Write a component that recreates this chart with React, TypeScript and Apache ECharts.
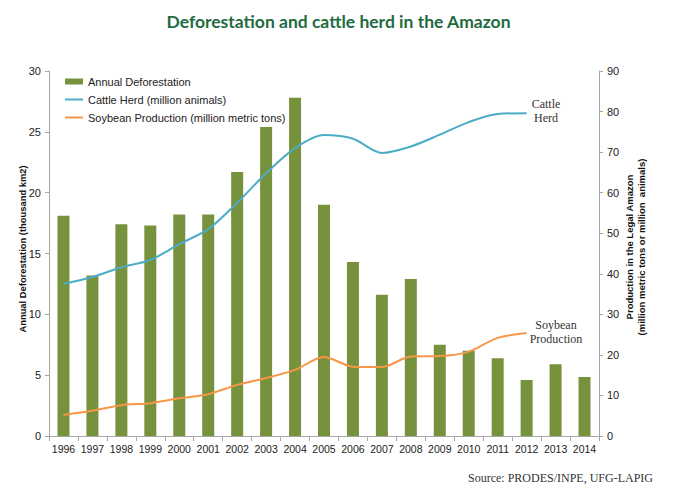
import React, { useEffect, useRef } from "react";
import * as echarts from "echarts";

const years = ["1996","1997","1998","1999","2000","2001","2002","2003","2004","2005","2006","2007","2008","2009","2010","2011","2012","2013","2014"];
const deforestation = [18.1, 13.2, 17.4, 17.3, 18.2, 18.2, 21.7, 25.4, 27.8, 19.0, 14.3, 11.6, 12.9, 7.5, 7.0, 6.4, 4.6, 5.9, 4.85];
const cattleHerd = [37.5, 39.2, 41.6, 43.4, 47.3, 51.0, 57.5, 64.8, 71.0, 74.2, 73.3, 69.8, 71.4, 74.3, 77.4, 79.4, 79.6];
const soybean = [5.2, 6.2, 7.6, 8.1, 9.3, 10.3, 12.6, 14.3, 16.3, 19.5, 17.1, 17.0, 19.6, 19.7, 20.8, 24.2, 25.4];

const FONT = "'Liberation Sans', Arial, sans-serif";
const SERIF = "'Liberation Serif', 'DejaVu Serif', serif";

export default function App() {
  const ref = useRef<HTMLDivElement>(null);
  useEffect(() => {
    document.body.style.margin = "0";
    if (!ref.current) return;
    const chart = echarts.init(ref.current, null, { renderer: "svg" });
    const axisColor = "#a6a6a6";
    const hiddenSymbol = { color: "rgba(0,0,0,0)", opacity: 0, borderWidth: 0 };
    chart.setOption({
      animation: false,
      backgroundColor: "#ffffff",
      title: {
        text: "Deforestation and cattle herd in the Amazon",
        left: "center",
        top: 7,
        textStyle: { color: "#1e6b3f", fontSize: 17.5, fontWeight: "bold", fontFamily: "Lato, 'Open Sans', sans-serif" },
      },
      legend: {
        orient: "vertical",
        left: 59,
        top: 71,
        itemGap: 7,
        itemWidth: 18,
        itemHeight: 6,
        textStyle: { fontFamily: FONT, fontSize: 11, color: "#222" },
        data: [
          { name: "Annual Deforestation", icon: "rect" },
          { name: "Cattle Herd (million animals)", itemStyle: hiddenSymbol },
          { name: "Soybean Production (million metric tons)", itemStyle: hiddenSymbol },
        ],
      },
      grid: { left: 49, right: 78, top: 71, bottom: 55, containLabel: false },
      xAxis: {
        type: "category",
        data: years,
        boundaryGap: true,
        axisLine: { lineStyle: { color: axisColor } },
        axisTick: { show: true, alignWithLabel: false, length: 5, lineStyle: { color: axisColor } },
        axisLabel: { fontFamily: FONT, fontSize: 10.5, color: "#222", margin: 7, interval: 0 },
      },
      yAxis: [
        {
          type: "value",
          min: 0,
          max: 30,
          interval: 5,
          splitLine: { show: false },
          axisLine: { show: true, lineStyle: { color: axisColor } },
          axisTick: { show: true, length: 4, lineStyle: { color: axisColor } },
          axisLabel: { fontFamily: FONT, fontSize: 11, color: "#222", margin: 8 },
        },
        {
          type: "value",
          min: 0,
          max: 90,
          interval: 10,
          position: "right",
          splitLine: { show: false },
          axisLine: { show: true, lineStyle: { color: axisColor } },
          axisTick: { show: true, length: 4, lineStyle: { color: axisColor } },
          axisLabel: { fontFamily: FONT, fontSize: 11, color: "#222", margin: 8 },
        },
      ],
      series: [
        {
          name: "Annual Deforestation",
          type: "bar",
          data: deforestation,
          barWidth: 12,
          itemStyle: { color: "#76923c" },
          yAxisIndex: 0,
        },
        {
          name: "Cattle Herd (million animals)",
          type: "line",
          data: cattleHerd,
          yAxisIndex: 1,
          symbol: "none",
          smooth: 0.3,
          lineStyle: { color: "#4bacc6", width: 2 },
          itemStyle: { color: "#4bacc6" },
        },
        {
          name: "Soybean Production (million metric tons)",
          type: "line",
          data: soybean,
          yAxisIndex: 1,
          symbol: "none",
          smooth: 0.3,
          lineStyle: { color: "#f79646", width: 2 },
          itemStyle: { color: "#f79646" },
        },
      ],
      graphic: [
        {
          type: "text",
          x: 22,
          y: 249,
          rotation: Math.PI / 2,
          style: { text: "Annual Deforestation (thousand km2)", font: `bold 9.4px ${FONT}`, fill: "#111", align: "center", verticalAlign: "middle" },
        },
        {
          type: "text",
          x: 635,
          y: 247,
          rotation: Math.PI / 2,
          style: { text: "Production in the Legal Amazon\n(million metric tons or million  animals)", font: `bold 9.5px ${FONT}`, fill: "#111", align: "center", verticalAlign: "middle", lineHeight: 12 },
        },
        {
          type: "text",
          x: 546,
          y: 111,
          style: { text: "Cattle\nHerd", font: `12px ${SERIF}`, fill: "#333", align: "center", verticalAlign: "middle", lineHeight: 14 },
        },
        {
          type: "text",
          x: 556,
          y: 332,
          style: { text: "Soybean\nProduction", font: `12px ${SERIF}`, fill: "#333", align: "center", verticalAlign: "middle", lineHeight: 14 },
        },
        {
          type: "text",
          x: 653,
          y: 478,
          style: { text: "Source: PRODES/INPE, UFG-LAPIG", font: `12px ${SERIF}`, fill: "#333", align: "right", verticalAlign: "middle" },
        },
      ],
    });
    return () => chart.dispose();
  }, []);
  return <div ref={ref} style={{ width: 677, height: 491 }} />;
}
